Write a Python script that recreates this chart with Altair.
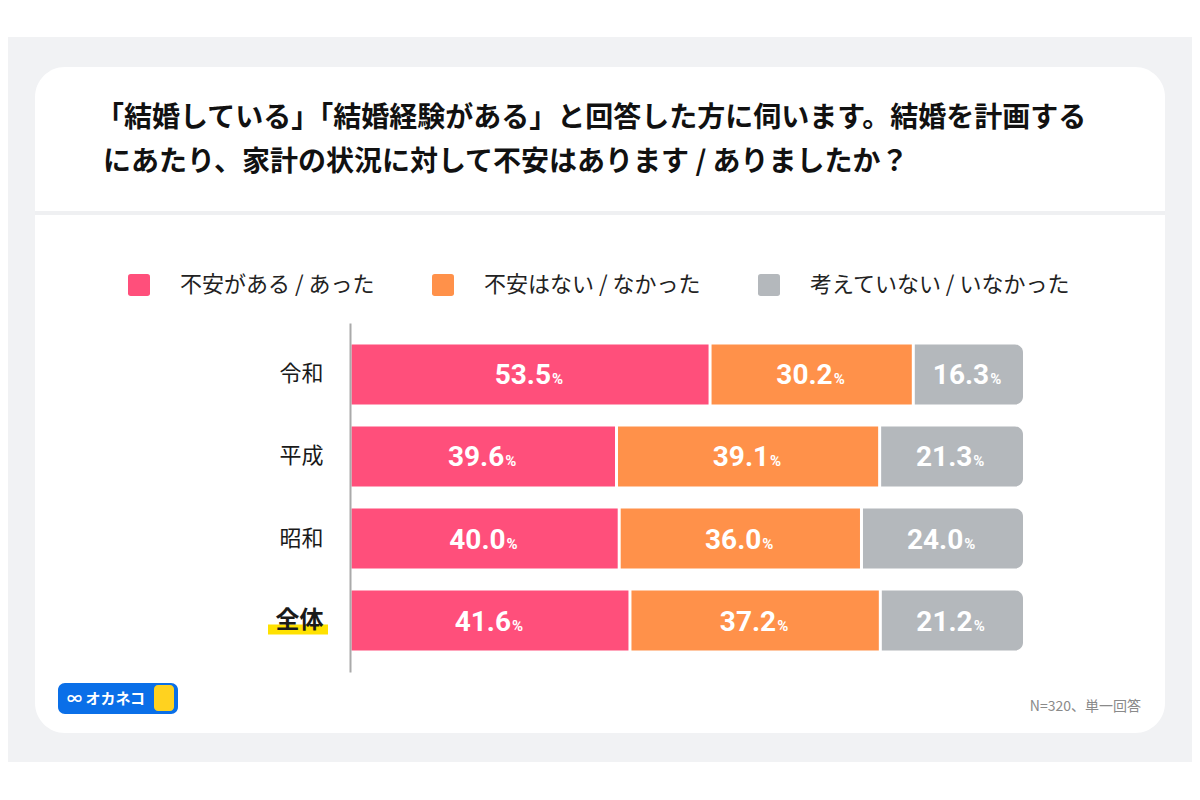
import altair as alt
import pandas as pd

eras = ["令和", "平成", "昭和", "全体"]
categories = ["不安がある / あった", "不安はない / なかった", "考えていない / いなかった"]
colors = ["#FF4F7B", "#FF914A", "#B4B8BC"]
reiwa = [53.5, 30.2, 16.3]
heisei = [39.6, 39.1, 21.3]
showa = [40.0, 36.0, 24.0]
total = [41.6, 37.2, 21.2]
title_lines = [
    "「結婚している」「結婚経験がある」と回答した方に伺います。結婚を計画する",
    "にあたり、家計の状況に対して不安はあります / ありましたか？",
]
note = "N=320、単一回答"
logo_text = "∞ オカネコ"

rows = []
for era, vals in zip(eras, [reiwa, heisei, showa, total]):
    for i, (cat, v) in enumerate(zip(categories, vals)):
        rows.append({"era": era, "cat": cat, "order": i, "value": v})
df = pd.DataFrame(rows)

JP = "Noto Sans CJK JP"
one = pd.DataFrame({"a": [0]})

color = alt.Color(
    "cat:N",
    scale=alt.Scale(domain=categories, range=colors),
    sort=categories,
    legend=alt.Legend(
        title=None,
        orient="none",
        legendX=-222,
        legendY=-49,
        direction="horizontal",
        symbolType="M -0.75 -1 H 0.75 Q 1 -1 1 -0.75 V 0.75 Q 1 1 0.75 1 H -0.75 Q -1 1 -1 0.75 V -0.75 Q -1 -1 -0.75 -1 Z",
        symbolSize=484,
        symbolStrokeWidth=0,
        symbolOpacity=1,
        labelFont=JP,
        labelFontSize=22,
        labelColor="#222222",
        labelOffset=30,
        labelLimit=400,
        columnPadding=57,
        padding=0,
    ),
)

yenc = alt.Y(
    "era:N",
    sort=eras,
    scale=alt.Scale(domain=eras, paddingInner=0.268, paddingOuter=0.262),
    axis=alt.Axis(
        title=None,
        ticks=False,
        domainColor="#AAAAAA",
        domainWidth=2,
        labelFont=JP,
        labelFontSize={"condition": {"test": "datum.value == '全体'", "value": 24}, "value": 22},
        labelColor="#1A1A1A",
        labelPadding=27,
        labelFontWeight={"condition": {"test": "datum.value == '全体'", "value": "bold"}, "value": "normal"},
        zindex=1,
    ),
)
xscale = alt.Scale(domain=[0, 100])

base = alt.Chart(df).transform_stack(
    stack="value", groupby=["era"], as_=["x0", "x1"], sort=[alt.SortField("order")]
).transform_calculate(mid="(datum.x0 + datum.x1) / 2")

bars_a = base.transform_filter("datum.order < 2").mark_bar(xOffset=1.5, x2Offset=-1.5).encode(
    x=alt.X("x0:Q", scale=xscale, axis=None), x2="x1:Q", y=yenc, color=color
)
bars_b = base.transform_filter("datum.order == 2").mark_bar(
    xOffset=1.5, cornerRadiusTopRight=8, cornerRadiusBottomRight=8
).encode(x=alt.X("x0:Q", scale=xscale, axis=None), x2="x1:Q", y=yenc, color=color)

num = base.mark_text(
    font="Roboto", fontWeight="bold", fontSize=28, color="white", align="right", baseline="alphabetic", dx=21, dy=10
).encode(x=alt.X("mid:Q", scale=xscale, axis=None), y=yenc, text=alt.Text("value:Q", format=".1f"))
pct = base.mark_text(
    font="Roboto", fontWeight="bold", fontSize=15, color="white", align="left", baseline="alphabetic", dx=22, dy=10
).encode(x=alt.X("mid:Q", scale=xscale, axis=None), y=yenc, text=alt.value("%"))

highlight = alt.Chart(df).transform_filter("datum.era == '全体' && datum.order == 0").mark_rule(
    color="#FFE100", strokeWidth=10, yOffset=9
).encode(x=alt.value(-82), x2=alt.value(-22), y=yenc)

bg = alt.Chart(one).mark_rect(color="#F1F2F4").encode(
    x=alt.value(-345), x2=alt.value(845), y=alt.value(-286), y2=alt.value(439)
)
card = alt.Chart(one).mark_rect(color="white", cornerRadius=30).encode(
    x=alt.value(-315), x2=alt.value(815), y=alt.value(-256), y2=alt.value(410)
)
sep = alt.Chart(one).mark_rect(color="#EFF0F2").encode(
    x=alt.value(-315), x2=alt.value(815), y=alt.value(-112), y2=alt.value(-108)
)
t1 = alt.Chart(pd.DataFrame({"t": [title_lines[0]]})).mark_text(
    font=JP, fontWeight="bold", fontSize=28, color="#111111", align="left", baseline="middle"
).encode(x=alt.value(-254), y=alt.value(-204), text="t:N")
t2 = alt.Chart(pd.DataFrame({"t": [title_lines[1]]})).mark_text(
    font=JP, fontWeight="bold", fontSize=28, color="#111111", align="left", baseline="middle"
).encode(x=alt.value(-247), y=alt.value(-160), text="t:N")
foot = alt.Chart(pd.DataFrame({"t": [note]})).mark_text(
    font=JP, fontSize=14, color="#8A8A8A", align="right", baseline="middle"
).encode(x=alt.value(791), y=alt.value(384), text="t:N")
logo_box = alt.Chart(one).mark_rect(color="#0A6FE8", cornerRadius=7).encode(
    x=alt.value(-292), x2=alt.value(-172), y=alt.value(360), y2=alt.value(391)
)
logo = alt.Chart(pd.DataFrame({"t": [logo_text]})).mark_text(
    font=JP, fontWeight="bold", fontSize=15, color="white", align="left", baseline="middle"
).encode(x=alt.value(-283), y=alt.value(376), text="t:N")
cat_head = alt.Chart(one).mark_rect(color="#FFD21F", cornerRadius=4).encode(
    x=alt.value(-196), x2=alt.value(-176), y=alt.value(362), y2=alt.value(388)
)

chart = alt.layer(
    bg, card, sep, t1, t2, bars_a, bars_b, num, pct, highlight, foot, logo_box, logo, cat_head
).properties(
    width=673,
    height=349,
    autosize=alt.AutoSizeParams(type="none"),
    padding={"left": 342, "top": 315, "right": 169, "bottom": 120},
    background="white",
).configure_view(strokeWidth=0)

chart.save("out.html", embed_options={"renderer": "svg", "actions": False})
